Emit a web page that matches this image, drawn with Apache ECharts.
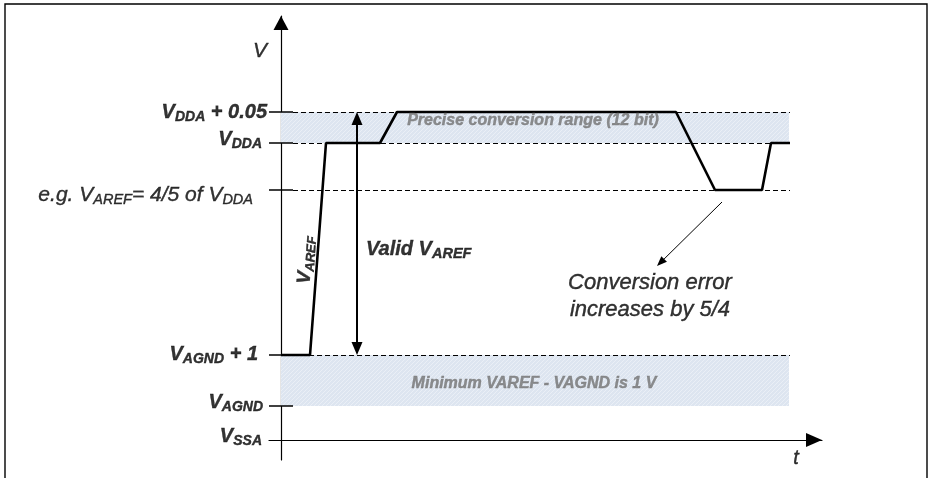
<!DOCTYPE html>
<html><head><meta charset="utf-8">
<script src="https://cdn.jsdelivr.net/npm/echarts@6/dist/echarts.min.js"></script>
<style>html,body{margin:0;padding:0;background:#fff}#c{width:929px;height:478px}</style>
</head><body><div id="c"></div>
<script>
// ---------------- data ----------------
const levelNames  = ['VDDA + 0.05', 'VDDA', 'e.g. VAREF = 4/5 of VDDA', 'VAGND + 1', 'VAGND', 'VSSA'];
const levelValues = [32.8, 29.7, 25.0, 8.5, 3.4, 0];
const levelLabels = [
  '{b|V}{bs|DDA}{b| + 0.05}',
  '{b|V}{bs|DDA}',
  '{r|e.g. V}{rs|AREF}{r|= 4/5 of V}{rs|DDA}',
  '{b|V}{bs|AGND}{b| + 1}',
  '{b|V}{bs|AGND}',
  '{b|V}{bs|SSA}'
];
const dashedLevels = [32.8, 29.7, 25.0, 8.5];
const tickLevels   = [32.8, 29.7, 25.0, 8.5, 3.4];
const signalTime = [0, 2.9, 4.5, 9.9, 11.6, 39.5, 43.4, 48.1, 49.0, 50.9];
const signalVolt = [8.5, 8.5, 29.7, 29.7, 32.8, 32.8, 25.0, 25.0, 29.7, 29.7];
const preciseBand = [29.7, 32.8];
const minimumBand = [3.4, 8.5];
const bandTime = [0, 50.8];
const refLineTime = [1.2, 50.9];
const tickTime = [-1.2, 1.2];
const validArrowTime = 7.6;
const validArrowRange = [32.8, 8.5];
const errorArrowFrom = [44.1, 23.8];
const errorArrowTo = [37.6, 17.4];
const axisXRange = [-1.2, 54.1];
const axisYRange = [-2, 42.4];
const bandTexts = ['Precise conversion range (12 bit)', 'Minimum VAREF - VAGND is 1 V'];
const noteText = 'Conversion error\nincreases by 5/4';

// ---------------- rendering ----------------
const F = "'Liberation Sans', Arial, sans-serif";
function hatch() {
  const c = document.createElement('canvas');
  c.width = 4; c.height = 4;
  const g = c.getContext('2d');
  g.fillStyle = '#dde5f0'; g.fillRect(0, 0, 4, 4);
  g.strokeStyle = '#eaeff6'; g.lineWidth = 1;
  g.beginPath(); g.moveTo(-1, 5); g.lineTo(5, -1); g.stroke();
  return c;
}
const hatchFill = { image: hatch(), repeat: 'repeat' };

function st(o, col) {
  const c = col || '#000';
  return Object.assign({ fontFamily: F, color: c, textBorderColor: c, textBorderWidth: 0.4, textShadowBlur: 0 }, o);
}
const GRAY = '#737373';
const rich = {
  b:  st({ fontSize: 20, fontWeight: 'bold', fontStyle: 'italic', lineHeight: 24 }),
  bs: st({ fontSize: 14, fontWeight: 'bold', fontStyle: 'italic', lineHeight: 15, verticalAlign: 'bottom' }),
  r:  st({ fontSize: 21, fontStyle: 'italic', lineHeight: 25 }),
  rs: st({ fontSize: 14.5, fontStyle: 'italic', lineHeight: 16, verticalAlign: 'bottom' }),
  vb: st({ fontSize: 20, fontWeight: 'bold', fontStyle: 'italic', lineHeight: 24 }),
  vs: st({ fontSize: 14.5, fontWeight: 'bold', fontStyle: 'italic', lineHeight: 15, verticalAlign: 'bottom' }),
  ab: st({ fontSize: 19, fontWeight: 'bold', fontStyle: 'italic', lineHeight: 23 }),
  as: st({ fontSize: 13, fontWeight: 'bold', fontStyle: 'italic', lineHeight: 14, verticalAlign: 'bottom' })
};

// label anchor placement (layout only)
const levelLabelX  = [-1.4, -1.9, -2.8, -2.3, -1.8, -1.9];
const levelLabelDy = [0, -4, 5, -1, -4, -4];

const textItems = [];
levelValues.forEach((v, i) => {
  textItems.push({ value: [levelLabelX[i], v], name: levelNames[i],
    label: { formatter: levelLabels[i], align: 'right', offset: [0, levelLabelDy[i]] } });
});
textItems.push({ value: [-2.1, 38.9], label: st({ formatter: 'V', align: 'center', fontSize: 21, fontStyle: 'italic' }) });
textItems.push({ value: [51.5, -1.8], label: st({ formatter: 't', align: 'center', fontSize: 20, fontStyle: 'italic' }) });
textItems.push({ value: [25.2, 31.9], label: st({ formatter: bandTexts[0], align: 'center',
  fontSize: 16, fontWeight: 'bold', fontStyle: 'italic' }, GRAY) });
textItems.push({ value: [25.3, 5.66], label: st({ formatter: bandTexts[1], align: 'center',
  fontSize: 16, fontWeight: 'bold', fontStyle: 'italic' }, GRAY) });
textItems.push({ value: [8.5, 19.1], label: { formatter: '{vb|Valid V}{vs|AREF}', align: 'left' } });
textItems.push({ value: [2.5, 18.0], label: { formatter: '{ab|V}{as|AREF}', align: 'center', rotate: 86 } });
textItems.push({ value: [36.9, 14.4], label: st({ formatter: noteText, align: 'center',
  fontSize: 22, fontStyle: 'italic', lineHeight: 27 }) });

// arrow shafts stop where the arrow-head centre sits, so the tips land on the data points
const headHalf = 0.65;
const validArrow = [
  { coord: [validArrowTime, validArrowRange[0] - headHalf] },
  { coord: [validArrowTime, validArrowRange[1] + headHalf] }
];
const dx = errorArrowTo[0] - errorArrowFrom[0], dy = errorArrowTo[1] - errorArrowFrom[1];
const len = Math.sqrt(dx * dx + dy * dy);
const errHead = 0.5;
const errorArrow = [
  { coord: errorArrowFrom.slice() },
  { coord: [errorArrowTo[0] - dx / len * errHead, errorArrowTo[1] - dy / len * errHead] }
];

const noLabel = { show: false };
const option = {
  animation: false,
  grid: { left: 269, right: 107, top: 16, bottom: 18, containLabel: false, outerBoundsMode: 'none' },
  xAxis: {
    type: 'value', min: axisXRange[0], max: axisXRange[1],
    axisLine: { onZero: true, lineStyle: { color: '#000', width: 1.2 },
      symbol: ['none', 'triangle'], symbolSize: [14, 16], symbolOffset: [0, -8] },
    axisTick: { show: false }, axisLabel: { show: false }, splitLine: { show: false }
  },
  yAxis: {
    type: 'value', min: axisYRange[0], max: axisYRange[1],
    axisLine: { onZero: true, lineStyle: { color: '#000', width: 1.2 },
      symbol: ['none', 'triangle'], symbolSize: [15, 14], symbolOffset: [0, -7] },
    axisTick: { show: false }, axisLabel: { show: false }, splitLine: { show: false }
  },
  graphic: [{ type: 'rect', shape: { x: 5, y: 4, width: 922, height: 520 },
    style: { fill: 'none', stroke: '#000', lineWidth: 1.4 }, silent: true, z: 100 }],
  series: [
    { type: 'line', data: [], z: 1, silent: true,
      markArea: { silent: true, itemStyle: { color: hatchFill, borderWidth: 0 }, label: noLabel,
        data: [
          [{ coord: [bandTime[0], preciseBand[0]] }, { coord: [bandTime[1], preciseBand[1]] }],
          [{ coord: [bandTime[0], minimumBand[0]] }, { coord: [bandTime[1], minimumBand[1]] }]
        ] } },
    { type: 'line', data: [], z: 2, silent: true,
      markLine: { silent: true, symbol: 'none', label: noLabel,
        lineStyle: { color: '#000', width: 1, type: [5, 3] },
        emphasis: { disabled: true },
        data: dashedLevels.map(v => [{ coord: [refLineTime[0], v] }, { coord: [refLineTime[1], v] }]) } },
    { type: 'line', data: [], z: 2, silent: true,
      markLine: { silent: true, symbol: 'none', label: noLabel,
        lineStyle: { color: '#000', width: 1.5, type: 'solid' },
        emphasis: { disabled: true },
        data: tickLevels.map(v => [{ coord: [tickTime[0], v] }, { coord: [tickTime[1], v] }]) } },
    { type: 'line', name: 'VAREF', z: 3, silent: true, symbol: 'none',
      lineStyle: { color: '#000', width: 2.6 },
      data: signalTime.map((t, i) => [t, signalVolt[i]]) },
    { type: 'line', data: [], z: 4, silent: true,
      markLine: { silent: true, symbol: ['triangle', 'triangle'], symbolSize: [11, 13], label: noLabel,
        lineStyle: { color: '#000', width: 2, type: 'solid' }, itemStyle: { color: '#000' },
        emphasis: { disabled: true },
        data: [validArrow] } },
    { type: 'line', data: [], z: 4, silent: true,
      markLine: { silent: true, symbol: ['none', 'triangle'], symbolSize: [8, 10], label: noLabel,
        lineStyle: { color: '#000', width: 1, type: 'solid' }, itemStyle: { color: '#000' },
        emphasis: { disabled: true },
        data: [errorArrow] } },
    { type: 'scatter', z: 5, silent: true, clip: false, symbolSize: 0,
      itemStyle: { color: '#000' },
      label: st({ show: true, position: 'inside', verticalAlign: 'middle', rich: rich }),
      data: textItems }
  ]
};
const chart = echarts.init(document.getElementById('c'));
chart.setOption(option);
</script>
</body></html>
